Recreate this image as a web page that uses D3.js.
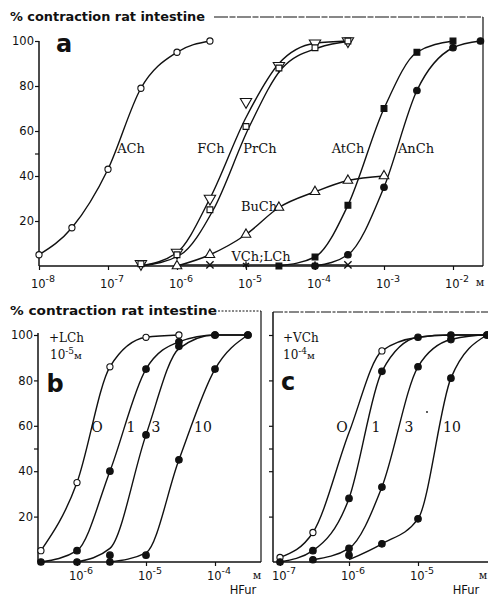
<!DOCTYPE html>
<html>
<head>
<meta charset="utf-8">
<script src="https://cdn.jsdelivr.net/npm/d3@7"></script>
<style>
body { margin: 0; background: #fff; }
text { fill: #111; }
</style>
</head>
<body>
<svg id="chart" width="488" height="597"></svg>
<script>
// ---- panel a: agonists, % contraction vs molar conc
const achX = [1e-8, 3e-8, 1e-7, 3e-7, 1e-6, 3e-6];
const achY = [5, 17, 43, 79, 95, 100];
const fchX = [3e-7, 1e-6, 3e-6, 1e-5, 3e-5, 1e-4, 3e-4];
const fchY = [1, 6, 30, 73, 89, 99, 100];
const fchCurve = [[3e-7, 0], [1e-6, 6], [3e-6, 30], [1e-5, 66], [3e-5, 90], [1e-4, 99], [3e-4, 100]];
const prchX = [3e-7, 1e-6, 3e-6, 1e-5, 3e-5, 1e-4, 3e-4];
const prchY = [1, 5, 25, 62, 88, 97, 100];
const buchX = [1e-6, 3e-6, 1e-5, 3e-5, 1e-4, 3e-4, 1e-3];
const buchY = [0, 5, 14, 26, 33, 38, 40];
const vchX = [3e-6, 3e-4];
const lchX = [1e-5, 1e-4];
const vchLine = [[1e-6, 0.5], [3e-4, 0.5]];
const atchX = [3e-5, 1e-4, 3e-4, 1e-3, 3e-3, 1e-2];
const atchY = [0, 4, 27, 70, 95, 100];
const anchX = [1e-4, 3e-4, 1e-3, 3e-3, 1e-2, 2.5e-2];
const anchY = [0, 5, 35, 78, 97, 100];
const decadesA = [-8, -7, -6, -5, -4, -3, -2];

// ---- panel b: HFur with LCh 1e-5 M, numbers = antagonist multiples
const b0X = [3e-7, 1e-6, 3e-6, 1e-5, 3e-5];
const b0Y = [5, 35, 86, 99, 100];
const b1X = [3e-7, 1e-6, 3e-6, 1e-5, 3e-5, 1e-4, 3e-4];
const b1Y = [0, 5, 40, 85, 97, 100, 100];
const b3X = [1e-6, 3e-6, 1e-5, 3e-5, 1e-4];
const b3Y = [0, 3, 56, 95, 100];
const b3Curve = [[1e-6, 0], [3e-6, 6], [1e-5, 56], [3e-5, 94], [1e-4, 100], [3e-4, 100]];
const b10X = [3e-6, 1e-5, 3e-5, 1e-4, 3e-4];
const b10Y = [0, 3, 45, 85, 100];
const b10Curve = [[3e-6, 0], [1e-5, 4], [3e-5, 45], [1e-4, 85], [3e-4, 100]];
const decadesB = [-6, -5, -4];

// ---- panel c: HFur with VCh 1e-4 M
const c0X = [1e-7, 3e-7, 3e-6];
const c0Y = [2, 13, 93];
const c0Curve = [[1e-7, 2], [3e-7, 13], [1e-6, 57], [3e-6, 93], [1e-5, 99], [3e-5, 100], [1e-4, 100]];
const c1X = [1e-7, 3e-7, 1e-6, 3e-6, 1e-5, 3e-5];
const c1Y = [0, 5, 28, 84, 99, 100];
const c1Curve = [[1e-7, 0], [3e-7, 5], [1e-6, 28], [3e-6, 84], [1e-5, 99], [3e-5, 100], [1e-4, 100]];
const c3X = [3e-7, 1e-6, 3e-6, 1e-5, 3e-5, 1e-4];
const c3Y = [1, 6, 33, 86, 98, 100];
const c10X = [1e-6, 3e-6, 1e-5, 3e-5, 1e-4];
const c10Y = [3, 8, 19, 81, 100];
const c10Curve = [[1e-6, 1], [3e-6, 8], [1e-5, 19], [3e-5, 81], [1e-4, 100]];
const decadesC = [-7, -6, -5];

const yTicks = [20, 40, 60, 80, 100];

const svg = d3.select('#chart');
const ink = '#111';

const zip = (xs, ys) => xs.map((x, i) => [x, ys[i]]);

function curve(xs, ys, pts, w) {
  const line = d3.line()
    .x(d => xs(d[0]))
    .y(d => ys(d[1]))
    .curve(d3.curveMonotoneX);
  svg.append('path')
    .attr('d', line(pts))
    .attr('fill', 'none')
    .attr('stroke', ink)
    .attr('stroke-width', w || 1.4);
}

function markers(xs, ys, pts, kind) {
  const g = svg.append('g');
  pts.forEach(d => {
    const x = xs(d[0]), y = ys(d[1]);
    let sym, size = 36, rot = 0, fill = 'white', sw = 1.1;
    if (kind == 'oc') { sym = d3.symbolCircle; size = 30; }
    if (kind == 'fc') { sym = d3.symbolCircle; size = 34; fill = ink; }
    if (kind == 'os') { sym = d3.symbolSquare; size = 34; }
    if (kind == 'fs') { sym = d3.symbolSquare; size = 34; fill = ink; }
    if (kind == 'tu') { sym = d3.symbolTriangle; size = 40; }
    if (kind == 'td') { sym = d3.symbolTriangle; size = 56; rot = 180; }
    if (kind == 'x') { sym = d3.symbolTimes || d3.symbolCross; size = 36; rot = d3.symbolTimes ? 0 : 45; fill = 'none'; sw = 1.3; }
    if (kind == 'ast') { sym = d3.symbolAsterisk || d3.symbolCross; size = 36; fill = 'none'; sw = 1.3; }
    g.append('path')
      .attr('d', d3.symbol().type(sym).size(size)())
      .attr('transform', `translate(${x},${y}) rotate(${rot})`)
      .attr('fill', fill)
      .attr('stroke', ink)
      .attr('stroke-width', sw);
  });
}

function label(x, y, txt, size, anchor, family, weight) {
  return svg.append('text')
    .attr('x', x).attr('y', y)
    .attr('text-anchor', anchor || 'middle')
    .attr('font-family', family || '"DejaVu Serif", serif')
    .attr('font-size', size)
    .attr('font-weight', weight || 'normal')
    .text(txt);
}

function powLabel(x, y, exp) {
  const t = svg.append('text')
    .attr('x', x).attr('y', y)
    .attr('text-anchor', 'middle')
    .attr('font-family', '"DejaVu Sans", sans-serif')
    .attr('font-size', 11.5);
  t.append('tspan').text('10');
  t.append('tspan').attr('dy', -6).attr('font-size', 9.5).text(exp);
}

function xAxis(xs, y, decades, x0, x1, labelY) {
  svg.append('line')
    .attr('x1', x0).attr('x2', x1).attr('y1', y).attr('y2', y)
    .attr('stroke', ink).attr('stroke-width', 1.5);
  const axis = d3.axisBottom(xs)
    .tickValues(decades.map(e => Math.pow(10, e)))
    .tickSize(4)
    .tickFormat('');
  const g = svg.append('g').attr('transform', `translate(0,${y})`).call(axis);
  g.select('.domain').remove();
  g.selectAll('line').attr('stroke', ink).attr('stroke-width', 1.2);
  decades.forEach(e => powLabel(xs(Math.pow(10, e)) + 4, labelY, String(e)));
}

function yAxis(ys, x, top, bottom, withLabels) {
  svg.append('line')
    .attr('x1', x).attr('x2', x).attr('y1', top).attr('y2', bottom)
    .attr('stroke', ink).attr('stroke-width', 1.5);
  const axis = d3.axisLeft(ys)
    .tickValues(yTicks.concat([50]))
    .tickSize(4)
    .tickFormat(d => (withLabels && d != 50) ? d : '');
  const g = svg.append('g').attr('transform', `translate(${x},0)`).call(axis);
  g.select('.domain').remove();
  g.selectAll('line').attr('stroke', ink).attr('stroke-width', 1.2);
  g.selectAll('text')
    .attr('font-family', '"DejaVu Sans", sans-serif')
    .attr('font-size', 11.5)
    .attr('fill', ink)
    .attr('x', -5);
}

// ================= panel a =================
const xA = d3.scaleLog().domain([1e-8, 1e-2]).range([39, 453]);
const yA = d3.scaleLinear().domain([0, 100]).range([266, 41]);

label(10, 21, '% contraction rat intestine', 12, 'start', '"DejaVu Sans", sans-serif', 'bold')
  .attr('textLength', 195).attr('lengthAdjust', 'spacingAndGlyphs');
svg.append('path')
  .attr('d', 'M214,17 H483')
  .attr('fill', 'none').attr('stroke', ink).attr('stroke-width', 1.1)
  .attr('stroke-dasharray', '14,1.5,6,1.5');
svg.append('line').attr('x1', 483).attr('x2', 483).attr('y1', 17).attr('y2', 266)
  .attr('stroke', ink).attr('stroke-width', 1.2);

xAxis(xA, 266, decadesA, 39, 483, 288);
yAxis(yA, 39, 41, 266, true);
label(480, 286, 'м', 11, 'middle', '"DejaVu Serif", serif');
label(64, 52, 'a', 24, 'middle', '"DejaVu Sans", sans-serif', 'bold');

curve(xA, yA, zip(achX, achY));
curve(xA, yA, fchCurve);
curve(xA, yA, zip(prchX, prchY).map(d => [d[0] * 1.12, d[1]]).map((d, i) => i == 0 ? [3e-7, 0] : d));
curve(xA, yA, zip(buchX, buchY));
curve(xA, yA, vchLine, 1.2);
curve(xA, yA, zip(atchX, atchY));
curve(xA, yA, zip(anchX, anchY));

markers(xA, yA, zip(achX, achY), 'oc');
markers(xA, yA, zip(fchX, fchY), 'td');
markers(xA, yA, zip(prchX, prchY), 'os');
markers(xA, yA, zip(buchX, buchY), 'tu');
markers(xA, yA, vchX.map(x => [x, 0.5]), 'x');
markers(xA, yA, lchX.map(x => [x, 0.5]), 'ast');
markers(xA, yA, zip(atchX, atchY), 'fs');
markers(xA, yA, zip(anchX, anchY), 'fc');

label(131, 153, 'ACh', 13);
label(211, 153, 'FCh', 13);
label(260, 153, 'PrCh', 13);
label(348, 153, 'AtCh', 13);
label(416, 153, 'AnCh', 13);
label(259, 211, 'BuCh', 13);
label(261, 261, 'VCh;LCh', 13);

// ================= panel b =================
const xB = d3.scaleLog().domain([1e-6, 1e-4]).range([77, 215]);
const yB = d3.scaleLinear().domain([0, 100]).range([562, 335]);

label(10, 315, '% contraction rat intestine', 12, 'start', '"DejaVu Sans", sans-serif', 'bold')
  .attr('textLength', 207).attr('lengthAdjust', 'spacingAndGlyphs');
svg.append('path')
  .attr('d', 'M218,311 H261')
  .attr('fill', 'none').attr('stroke', ink).attr('stroke-width', 1)
  .attr('stroke-dasharray', '2,1.5');
svg.append('line').attr('x1', 261).attr('x2', 261).attr('y1', 311).attr('y2', 562)
  .attr('stroke', ink).attr('stroke-width', 1.2);

xAxis(xB, 562, decadesB, 38, 261, 580);
yAxis(yB, 38, 333, 562, true);
label(257, 579, 'м', 11);
label(243, 594, 'HFur', 11.5, 'middle', '"DejaVu Sans", sans-serif');

label(49, 342, '+LCh', 12, 'start');
const t2 = svg.append('text').attr('x', 50).attr('y', 359)
  .attr('font-family', '"DejaVu Serif", serif').attr('font-size', 12);
t2.append('tspan').text('10');
t2.append('tspan').attr('dy', -5).attr('font-size', 9).text('-5');
t2.append('tspan').attr('dy', 5).attr('font-size', 10).text('м');
label(55, 392, 'b', 24, 'middle', '"DejaVu Sans", sans-serif', 'bold');

curve(xB, yB, zip(b0X, b0Y));
curve(xB, yB, zip(b1X, b1Y));
curve(xB, yB, b3Curve);
curve(xB, yB, b10Curve);
markers(xB, yB, zip(b0X, b0Y), 'oc');
markers(xB, yB, zip(b1X, b1Y), 'fc');
markers(xB, yB, zip(b3X, b3Y), 'fc');
markers(xB, yB, zip(b10X, b10Y), 'fc');

label(97, 432, 'O', 14);
label(131, 432, '1', 14);
label(156, 432, '3', 14);
label(203, 432, '10', 14);

// ================= panel c =================
const xC = d3.scaleLog().domain([1e-7, 1e-5]).range([280, 418]);
const yC = yB;

svg.append('path')
  .attr('d', 'M273,312 H488')
  .attr('fill', 'none').attr('stroke', ink).attr('stroke-width', 1)
  .attr('stroke-dasharray', '10,1.5,3,1.5');

xAxis(xC, 562, decadesC, 273, 488, 580);
yAxis(yC, 273, 312, 562, false);
label(483, 579, 'м', 11);
label(466, 594, 'HFur', 11.5, 'middle', '"DejaVu Sans", sans-serif');

label(283, 342, '+VCh', 12, 'start');
const t3 = svg.append('text').attr('x', 283).attr('y', 359)
  .attr('font-family', '"DejaVu Serif", serif').attr('font-size', 12);
t3.append('tspan').text('10');
t3.append('tspan').attr('dy', -5).attr('font-size', 9).text('-4');
t3.append('tspan').attr('dy', 5).attr('font-size', 10).text('м');
label(288, 390, 'c', 24, 'middle', '"DejaVu Sans", sans-serif', 'bold');

curve(xC, yC, c0Curve);
curve(xC, yC, c1Curve);
curve(xC, yC, zip(c3X, c3Y).concat([[3e-4, 100]]));
curve(xC, yC, c10Curve);
markers(xC, yC, zip(c0X, c0Y), 'oc');
markers(xC, yC, zip(c1X, c1Y), 'fc');
markers(xC, yC, zip(c3X, c3Y), 'fc');
markers(xC, yC, zip(c10X, c10Y), 'fc');

label(342, 432, 'O', 14);
label(376, 432, '1', 14);
label(409, 432, '3', 14);
label(452, 432, '10', 14);
svg.append('circle').attr('cx', 427).attr('cy', 412).attr('r', 0.9).attr('fill', ink);
</script>
</body>
</html>
